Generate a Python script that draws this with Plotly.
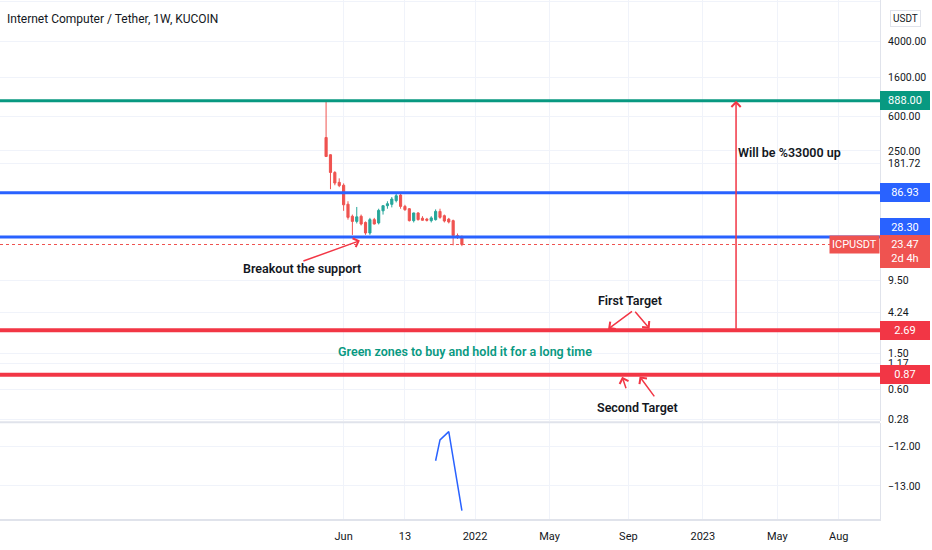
import numpy as np
import plotly.graph_objects as go

# weekly ICP/USDT candles (KuCoin)
weeks = ["2021-05-10", "2021-05-17", "2021-05-24", "2021-05-31", "2021-06-07", "2021-06-14",
         "2021-06-21", "2021-06-28", "2021-07-05", "2021-07-12", "2021-07-19", "2021-07-26",
         "2021-08-02", "2021-08-09", "2021-08-16", "2021-08-23", "2021-08-30", "2021-09-06",
         "2021-09-13", "2021-09-20", "2021-09-27", "2021-10-04", "2021-10-11", "2021-10-18",
         "2021-10-25", "2021-11-01", "2021-11-08", "2021-11-15", "2021-11-22", "2021-11-29",
         "2021-12-06", "2021-12-13"]
opens = [351, 227, 145, 113, 105, 65, 47.9, 42.1, 47.9, 41, 31.4, 44, 40.5, 55, 62.6, 64.8,
         71.2, 82, 61.5, 58, 42.9, 52.1, 45.6, 44.6, 42.9, 44, 54.2, 48.6, 44.6, 42.9, 29.4, 28.7]
highs = [888, 230, 150, 125, 110, 70, 50, 60.6, 50, 42, 46, 46, 58, 62, 70, 78,
         86, 88, 64, 59, 52.5, 53, 48, 46, 48, 57, 58, 50, 46, 44, 31, 29.5]
lows = [217, 95, 105, 100, 55, 44, 29.9, 40, 38, 30, 30, 39, 39, 50, 58, 60,
        68, 58, 55, 42, 41, 43, 43, 42, 41, 43, 45, 41, 40, 23, 27, 22.5]
closes = [217, 145, 111, 104, 64, 46.6, 42.1, 47.2, 39.4, 31.4, 44, 39.4, 55.6, 62.6, 65.8, 74.1,
          80.5, 61.5, 56.6, 42.9, 52.1, 44, 43.3, 43.3, 46, 54.2, 46.6, 42.5, 41.5, 29.4, 28.4, 23.47]

# oscillator in the lower pane
osc_dates = ["2021-11-01", "2021-11-08", "2021-11-22", "2021-12-13"]
osc_values = [-12.36, -11.83, -11.62, -13.63]

# horizontal levels drawn by the author
target_888 = 888.00
resistance = 86.93
support = 28.30
last_close = 23.47
first_target = 2.69
second_target = 0.87

price_ticks = [11000, 4000, 1600, 600, 250, 181.72, 9.50, 4.24, 1.50, 1.17, 0.60, 0.28]
price_ticktext = ["11000.00", "4000.00", "1600.00", "600.00", "250.00", "181.72",
                  "9.50", "4.24", "1.50", "1.17", "0.60", "0.28"]
osc_ticks = [-12, -13]
osc_ticktext = ["\u221212.00", "\u221213.00"]
date_ticks = ["2021-06-07", "2021-09-13", "2022-01-03", "2022-05-02", "2022-09-05",
              "2023-01-02", "2023-05-01", "2023-08-07"]
date_ticktext = ["Jun", "13", "2022", "May", "Sep", "2023", "May", "Aug"]

FONT = "Roboto, sans-serif"
TEAL = "#089981"
BLUE = "#2962ff"
RED = "#f23645"
UP = "#26a69a"
DOWN = "#ef5350"
INK = "#131722"
GRID = "#f0f3fa"
BORDER = "#e0e3eb"

lg = np.log10

fig = go.Figure()
fig.add_trace(go.Candlestick(
    x=weeks, open=opens, high=highs, low=lows, close=closes,
    increasing=dict(line=dict(color=UP, width=1), fillcolor=UP),
    decreasing=dict(line=dict(color=DOWN, width=1), fillcolor=DOWN),
    whiskerwidth=0, xaxis="x", yaxis="y", hoverinfo="skip"))
fig.add_trace(go.Scatter(x=osc_dates, y=osc_values, mode="lines",
                         line=dict(color=BLUE, width=1.5), xaxis="x", yaxis="y2",
                         hoverinfo="skip"))

shapes = []
for val, col, w in [(target_888, TEAL, 3), (resistance, BLUE, 3), (support, BLUE, 3),
                    (first_target, RED, 4), (second_target, RED, 4)]:
    shapes.append(dict(type="line", xref="paper", x0=0, x1=1, yref="y", y0=val, y1=val,
                       line=dict(color=col, width=w), layer="above"))
shapes.append(dict(type="line", xref="paper", x0=0, x1=0.952, yref="y", y0=last_close,
                   y1=last_close, line=dict(color=DOWN, width=1, dash="dot")))
# pane separator
shapes.append(dict(type="line", xref="paper", x0=0, x1=1, yref="paper", y0=0.1865, y1=0.1865,
                   line=dict(color=BORDER, width=2)))

NOTE = dict(size=12.5, color=INK, family=FONT, weight=600)

ann = []
ann.append(dict(text="Internet Computer / Tether, 1W, KUCOIN", xref="paper", yref="paper",
                x=0, y=1, xanchor="left", yanchor="top", xshift=5, yshift=-10,
                showarrow=False, font=dict(size=12, color=INK, family=FONT)))


def axis_box(text, y, bg, yshift=0):
    return dict(text=text, xref="paper", yref="y", x=1, y=y, xanchor="left", yanchor="middle",
                xshift=0, yshift=yshift, showarrow=False, bgcolor=bg, borderpad=2,
                bordercolor=bg, width=44, align="center",
                font=dict(size=11, color="white", family=FONT))


ann.append(axis_box("888.00", lg(target_888), TEAL))
ann.append(axis_box("86.93", lg(resistance), BLUE))
ann.append(axis_box("28.30", lg(support), BLUE, yshift=10))
ann.append(axis_box("23.47<br>2d 4h", lg(last_close), DOWN, yshift=-7))
ann.append(dict(text="ICPUSDT", xref="paper", yref="y", x=1, y=lg(last_close), xanchor="right",
                yanchor="middle", showarrow=False, bgcolor=DOWN, borderpad=2,
                font=dict(size=11, color="white", family=FONT)))
ann.append(axis_box("2.69", lg(first_target), RED))
ann.append(axis_box("0.87", lg(second_target), RED))
ann.append(dict(text="USDT", xref="paper", yref="paper", x=1, y=1, xanchor="left", yanchor="top",
                xshift=10, yshift=-10, showarrow=False, bgcolor="white", bordercolor=BORDER,
                borderwidth=1, borderpad=2, font=dict(size=10, color=INK, family=FONT)))

# hand drawn notes
ann.append(dict(text="Breakout the support", x="2021-04-02", y=lg(12.8), xref="x", yref="y",
                showarrow=False, font=NOTE))
ann.append(dict(text="", x="2021-07-03", y=lg(25.9), xref="x", yref="y", ax=-58, ay=21,
                showarrow=True, arrowhead=4, arrowsize=1.2, arrowwidth=1.5, arrowcolor=RED))
ann.append(dict(text="Will be %33000 up", x="2023-05-21", y=lg(239), xref="x", yref="y",
                showarrow=False, font=NOTE))
ann.append(dict(text="", x="2023-02-24", y=lg(target_888), xref="x", yref="y",
                axref="x", ayref="y", ax="2023-02-24", ay=lg(first_target),
                showarrow=True, arrowhead=4, arrowsize=1.2, arrowwidth=1.5, arrowcolor=RED))
ann.append(dict(text="First Target", x="2022-09-08", y=lg(5.69), xref="x", yref="y",
                showarrow=False, font=NOTE))
ann.append(dict(text="", x="2022-08-01", y=lg(first_target), xref="x", yref="y", ax=27, ay=-20,
                showarrow=True, arrowhead=4, arrowsize=1.2, arrowwidth=1.5, arrowcolor=RED,
                standoff=2))
ann.append(dict(text="", x="2022-10-11", y=lg(first_target), xref="x", yref="y", ax=-17, ay=-20,
                showarrow=True, arrowhead=4, arrowsize=1.2, arrowwidth=1.5, arrowcolor=RED,
                standoff=2))
ann.append(dict(text="Green zones to buy and hold it for a long time", x="2021-12-18",
                y=lg(1.57), xref="x", yref="y", showarrow=False,
                font=dict(size=12.5, color=TEAL, family=FONT, weight=600)))
ann.append(dict(text="Second Target", x="2022-09-19", y=lg(0.382), xref="x", yref="y",
                showarrow=False, font=NOTE))
ann.append(dict(text="", x="2022-08-25", y=lg(second_target), xref="x", yref="y", ax=5, ay=15,
                showarrow=True, arrowhead=4, arrowsize=1.2, arrowwidth=1.5, arrowcolor=RED,
                standoff=2))
ann.append(dict(text="", x="2022-09-21", y=lg(second_target), xref="x", yref="y", ax=17, ay=23,
                showarrow=True, arrowhead=4, arrowsize=1.2, arrowwidth=1.5, arrowcolor=RED,
                standoff=2))

fig.update_layout(
    width=932, height=550,
    margin=dict(l=0, r=52, t=0, b=31),
    paper_bgcolor="white", plot_bgcolor="white",
    showlegend=False, hovermode=False,
    font=dict(family=FONT, color=INK, size=11),
    xaxis=dict(type="date", range=["2019-12-06", "2023-10-12"], anchor="y2",
               tickvals=date_ticks, ticktext=date_ticktext, showgrid=True, gridcolor=GRID,
               rangeslider=dict(visible=False), showline=True, linecolor=BORDER, linewidth=2,
               ticks="", ticklabelstandoff=6, tickfont=dict(size=11, color=INK)),
    yaxis=dict(type="log", domain=[0.188, 1], range=[-0.572, 4.055], side="right", anchor="x",
               tickvals=price_ticks, ticktext=price_ticktext, showgrid=True, gridcolor=GRID,
               zeroline=False, showline=True, linecolor=BORDER, ticks="",
               ticklabelstandoff=5, tickfont=dict(size=10.5, color=INK)),
    yaxis2=dict(domain=[0, 0.185], range=[-13.84, -11.40], side="right", anchor="x",
                tickvals=osc_ticks, ticktext=osc_ticktext, showgrid=True, gridcolor=GRID,
                zeroline=False, showline=True, linecolor=BORDER, ticks="",
                ticklabelstandoff=5, tickfont=dict(size=10.5, color=INK)),
    shapes=shapes,
    annotations=ann,
)

fig.write_html("out.html", config={"displayModeBar": False},
               post_script="document.body.style.margin='0px';")
